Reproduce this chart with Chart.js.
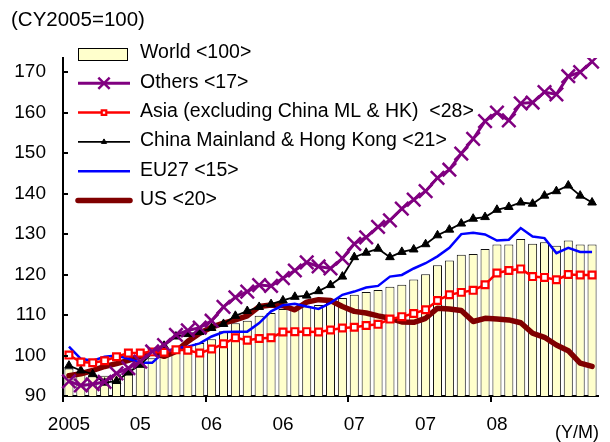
<!DOCTYPE html>
<html>
<head>
<meta charset="utf-8">
<script src="https://cdn.jsdelivr.net/npm/chart.js@4/dist/chart.umd.min.js"></script>
<style>
  html, body { margin: 0; padding: 0; background: #fff; }
  canvas { display: block; }
</style>
</head>
<body>
<canvas id="chart" width="610" height="442"></canvas>
<script>
// Monthly categories, Jan 2005 - Sep 2008
const months = [
  '2005/01','2005/02','2005/03','2005/04','2005/05','2005/06','2005/07','2005/08','2005/09','2005/10','2005/11','2005/12',
  '2006/01','2006/02','2006/03','2006/04','2006/05','2006/06','2006/07','2006/08','2006/09','2006/10','2006/11','2006/12',
  '2007/01','2007/02','2007/03','2007/04','2007/05','2007/06','2007/07','2007/08','2007/09','2007/10','2007/11','2007/12',
  '2008/01','2008/02','2008/03','2008/04','2008/05','2008/06','2008/07','2008/08','2008/09'
];

// Axis labels shown under the x axis (every six months)
const xTickLabels = [
  '2005','','','','','','05','','','','','',
  '06','','','','','','06','','','','','',
  '07','','','','','','07','','','','','',
  '08','','','','','','','',''
];
const yTicks = [90, 100, 110, 120, 130, 140, 150, 160, 170];

// Index values (CY2005 = 100)
const world = [96.8, 95.8, 95.3, 95.0, 95.4, 96.8, 98.0, 99.3, 100.4, 101.4, 102.3, 103.1,
  104.0, 106.0, 108.0, 108.6, 109.8, 110.5, 111.5, 111.7, 112.1, 112.5, 113.0, 114.2,
  115.0, 115.7, 116.2, 117.0, 117.5, 118.8, 120.1, 122.3, 123.5, 124.9, 125.1, 126.3,
  127.4, 127.4, 128.8, 127.6, 128.0, 127.1, 128.4, 127.4, 127.4];
const others = [93.6, 92.6, 92.9, 93.5, 95.6, 96.9, 98.5, 101.0, 102.6, 105.1, 106.2, 106.9,
  108.6, 112.0, 114.4, 115.8, 117.4, 117.2, 119.1, 121.0, 123.0, 122.0, 121.5, 124.0,
  127.6, 129.2, 131.8, 133.4, 136.3, 138.5, 140.6, 143.9, 145.9, 149.9, 153.5, 157.9,
  160.0, 158.1, 162.3, 162.5, 165.1, 164.5, 169.0, 170.0, 172.6];
const asia = [100.1, 98.4, 98.2, 98.7, 99.7, 100.6, 100.6, 100.9, 100.8, 101.4, 101.3, 100.6,
  101.6, 102.9, 104.4, 103.8, 104.2, 104.4, 105.8, 105.9, 105.9, 105.8, 106.3, 106.8,
  107.0, 107.4, 107.7, 109.0, 109.6, 110.4, 111.3, 113.6, 115.0, 115.6, 116.1, 117.5,
  120.4, 121.0, 121.4, 119.5, 119.3, 118.7, 120.0, 119.9, 119.9];
const china = [97.5, 96.3, 95.4, 93.3, 93.7, 95.8, 97.7, 100.6, 102.4, 104.7, 105.3, 105.8,
  106.8, 107.8, 109.8, 111.0, 112.0, 112.7, 113.6, 114.5, 114.8, 115.9, 117.4, 119.5,
  124.3, 125.4, 126.4, 124.3, 125.6, 126.2, 127.5, 129.7, 131.1, 132.6, 133.8, 134.2,
  136.0, 136.7, 137.8, 137.5, 139.5, 140.6, 142.0, 139.5, 137.8];
const eu27 = [102.2, 99.2, 98.7, 99.7, 100.0, 99.2, 98.2, 98.2, 100.9, 101.8, 102.2, 103.0,
  104.7, 105.8, 105.9, 105.9, 108.0, 110.9, 112.4, 112.8, 112.1, 111.5, 113.0, 115.0,
  115.8, 116.8, 117.2, 119.5, 119.9, 121.5, 122.8, 124.5, 126.6, 130.0, 130.3, 129.9,
  128.4, 128.6, 131.5, 129.4, 129.0, 125.3, 126.6, 125.6, 125.6];
const us = [95.0, 95.5, 96.3, 97.3, 98.0, 98.8, 99.8, 100.8, 99.8, 101.0, 103.5, 105.5,
  107.0, 108.0, 108.8, 109.8, 112.1, 112.5, 112.3, 111.3, 113.2, 113.8, 113.6, 112.1,
  110.9, 110.5, 109.8, 109.2, 108.3, 108.2, 109.2, 111.7, 111.5, 111.1, 108.4, 109.2,
  109.0, 108.8, 108.1, 105.5, 104.5, 102.6, 101.2, 98.1, 97.3];

const FONT = '"Liberation Sans", Arial, sans-serif';

// Marker shapes used by the legend samples
function drawMarker(ctx, style, r, lw, stroke, fill, x, y) {
  if (!r) return;
  ctx.save();
  ctx.lineWidth = lw;
  ctx.strokeStyle = stroke;
  ctx.fillStyle = fill;
  ctx.beginPath();
  if (style === 'crossRot') {
    const d = r * Math.SQRT1_2;
    ctx.moveTo(x - d, y - d); ctx.lineTo(x + d, y + d);
    ctx.moveTo(x + d, y - d); ctx.lineTo(x - d, y + d);
    ctx.stroke();
  } else if (style === 'rect') {
    const s = r * Math.SQRT1_2;
    ctx.rect(x - s, y - s, 2 * s, 2 * s);
    ctx.fill(); ctx.stroke();
  } else if (style === 'triangle') {
    ctx.moveTo(x, y - r);
    ctx.lineTo(x + r * 0.866, y + r * 0.5);
    ctx.lineTo(x - r * 0.866, y + r * 0.5);
    ctx.closePath();
    ctx.fill(); ctx.stroke();
  }
  ctx.restore();
}

// Legend marker sizes (smaller than the plotted markers)
const legendMarkerRadius = { crossRot: 8, rect: 3.2, triangle: 3 };

// Unit captions, inward y tick marks and the in-plot legend
const decorations = {
  id: 'decorations',
  afterDraw(chart) {
    const { ctx, chartArea, scales } = chart;
    ctx.save();
    ctx.fillStyle = '#000';
    ctx.font = '20.5px ' + FONT;
    ctx.textBaseline = 'middle';
    ctx.textAlign = 'left';
    ctx.fillText('(CY2005=100)', 11, 20);
    ctx.font = '18px ' + FONT;
    ctx.textAlign = 'right';
    ctx.fillText('(Y/M)', 599, 433);

    // tick marks pointing into the plot
    ctx.strokeStyle = '#000';
    ctx.lineWidth = 2;
    scales.y.ticks.forEach(t => {
      const py = Math.round(scales.y.getPixelForValue(t.value));
      ctx.beginPath();
      ctx.moveTo(chartArea.left, py);
      ctx.lineTo(chartArea.left + 5, py);
      ctx.stroke();
    });

    // legend
    const x0 = chartArea.left + 15, x1 = chartArea.left + 67, tx = chartArea.left + 77;
    ctx.font = '19.5px ' + FONT;
    ctx.textAlign = 'left';
    chart.data.datasets.forEach((ds, k) => {
      const y = chartArea.top - 4 + 29.3 * k;
      if (ds.type === 'bar') {
        ctx.fillStyle = ds.backgroundColor;
        ctx.fillRect(x0, y - 6, x1 - x0 - 2, 13);
        ctx.strokeStyle = '#000';
        ctx.lineWidth = 1;
        ctx.strokeRect(x0 + 0.5, y - 5.5, x1 - x0 - 3, 12);
      } else {
        ctx.strokeStyle = ds.borderColor;
        ctx.lineWidth = ds.borderWidth;
        ctx.lineCap = ds.borderWidth > 4 ? 'round' : 'butt';
        ctx.beginPath();
        ctx.moveTo(x0, y);
        ctx.lineTo(x1, y);
        ctx.stroke();
        if (ds.pointRadius) {
          drawMarker(ctx, ds.pointStyle, legendMarkerRadius[ds.pointStyle], ds.pointBorderWidth,
            ds.pointBorderColor, ds.pointBackgroundColor, (x0 + x1) / 2, y);
        }
      }
      ctx.fillStyle = '#000';
      ctx.fillText(ds.label, tx, y - 1);
    });
    ctx.restore();
  }
};

new Chart(document.getElementById('chart'), {
  type: 'bar',
  data: {
    labels: months,
    datasets: [
      { type: 'bar', label: 'World <100>', data: world, backgroundColor: '#FFFFCC',
        borderColor: '#111', borderWidth: 1, categoryPercentage: 1, barPercentage: 0.76, order: 10 },
      { type: 'line', label: 'Others <17>', data: others, borderColor: '#800080', borderWidth: 3,
        pointStyle: 'crossRot', pointRadius: 9.5, pointBorderWidth: 2.5, pointBorderColor: '#800080',
        pointBackgroundColor: '#800080', tension: 0, order: 1 },
      { type: 'line', label: 'Asia (excluding China ML & HK)  <28>', data: asia, borderColor: '#FF0000',
        borderWidth: 2.5, pointStyle: 'rect', pointRadius: 4.8, pointBorderWidth: 2.2,
        pointBorderColor: '#FF0000', pointBackgroundColor: '#FFFFFF', tension: 0, order: 2 },
      { type: 'line', label: 'China Mainland & Hong Kong <21>', data: china, borderColor: '#000000',
        borderWidth: 1.8, pointStyle: 'triangle', pointRadius: 5, pointBorderWidth: 1,
        pointBorderColor: '#000000', pointBackgroundColor: '#000000', tension: 0, order: 3 },
      { type: 'line', label: 'EU27 <15>', data: eu27, borderColor: '#0000FF', borderWidth: 2.5,
        pointRadius: 0, tension: 0, order: 4 },
      { type: 'line', label: 'US <20>', data: us, borderColor: '#800000', borderWidth: 5.5,
        pointRadius: 0, tension: 0, order: 5, borderCapStyle: 'round', borderJoinStyle: 'round' }
    ]
  },
  options: {
    responsive: false,
    animation: false,
    devicePixelRatio: 1,
    layout: { padding: { top: 58, left: 0, right: 0, bottom: 0 } },
    plugins: { legend: { display: false }, tooltip: { enabled: false } },
    scales: {
      x: {
        offset: true,
        grid: {
          offset: true, drawOnChartArea: false, drawTicks: true, tickLength: 6, lineWidth: 2,
          color: c => (c.index % 12 === 0 ? '#000' : 'rgba(0,0,0,0)')
        },
        border: { display: true, color: '#000', width: 2 },
        ticks: {
          autoSkip: false, maxRotation: 0, minRotation: 0, color: '#000', padding: 11,
          font: { family: FONT, size: 19 },
          callback: (v, i) => xTickLabels[i]
        },
        afterFit: s => { s.height = 46; }
      },
      y: {
        min: 90, max: 173.5,
        afterBuildTicks: s => { s.ticks = yTicks.map(v => ({ value: v })); },
        grid: { display: false, drawTicks: false },
        border: { display: true, color: '#000', width: 2 },
        ticks: { color: '#000', padding: 17, font: { family: FONT, size: 19 } },
        afterFit: s => { s.width = 63; }
      }
    }
  },
  plugins: [decorations]
});
</script>
</body>
</html>
